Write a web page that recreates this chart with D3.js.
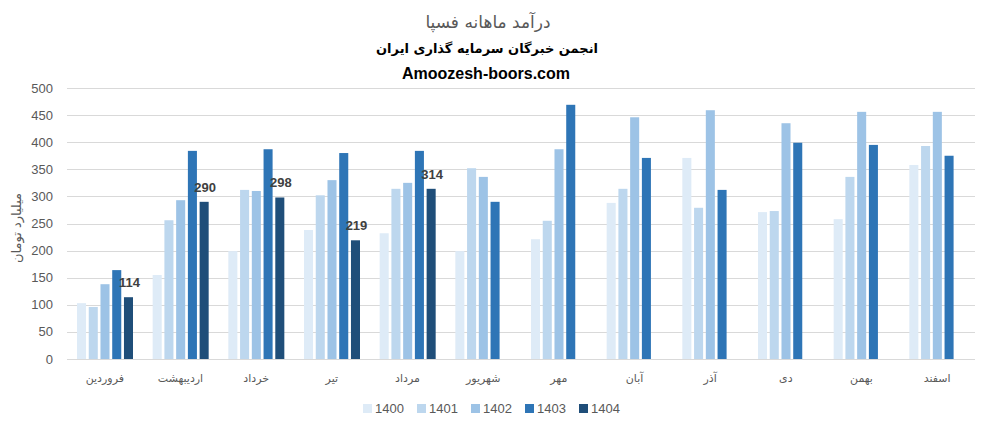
<!DOCTYPE html>
<html><head><meta charset="utf-8">
<script src="https://cdn.jsdelivr.net/npm/d3@7"></script>
<style>body{margin:0;background:#fff}svg{display:block}</style>
</head><body><svg id="c" width="981" height="432"></svg>
<script>
const months = ["فروردین","اردیبهشت","خرداد","تیر","مرداد","شهریور","مهر","آبان","آذر","دی","بهمن","اسفند"];
const years = ["1400","1401","1402","1403","1404"];
const v1400 = [103,155,199,238,232,199,221,288,371,271,258,358];
const v1401 = [96,256,312,302,314,352,255,314,279,273,336,393];
const v1402 = [138,293,310,330,325,336,387,446,459,435,456,456];
const v1403 = [164,384,387,380,384,290,469,371,312,399,395,375];
const v1404 = [114,290,298,219,314,null,null,null,null,null,null,null];
const yTicks = [0,50,100,150,200,250,300,350,400,450,500];
const colors = ["#DEEBF7","#BDD7EE","#9DC3E6","#2E75B6","#1F4E79"];
const series = [v1400,v1401,v1402,v1403,v1404];

const svg = d3.select("#c");
const pL = 67, pR = 975, pT = 88, pB = 359;
const x0 = d3.scaleBand().domain(months).range([pL, pR]);
const x1 = d3.scaleBand().domain(years).range([10, 66]).paddingInner(0.23);
const y = d3.scaleLinear().domain([0,500]).range([pB, pT]);

// gridlines
svg.append("g").selectAll("line").data(yTicks).join("line")
  .attr("x1", pL).attr("x2", pR)
  .attr("y1", d=>Math.round(y(d))+0.5).attr("y2", d=>Math.round(y(d))+0.5)
  .attr("stroke", "#d9d9d9").attr("stroke-width", 1);

// y tick labels
svg.append("g").selectAll("text").data(yTicks).join("text")
  .attr("x", 53).attr("y", d=>y(d)).attr("dy","0.35em")
  .attr("text-anchor","end").attr("font-family","Liberation Sans, Arial, sans-serif")
  .attr("font-size", 13).attr("fill","#595959").text(d=>d);

// bars
const g = svg.append("g");
series.forEach((vals, si) => {
  g.append("g").selectAll("rect").data(vals.map((v,i)=>({m:months[i],v})).filter(d=>d.v!=null)).join("rect")
    .attr("x", d=>x0(d.m)+x1(years[si]))
    .attr("width", x1.bandwidth())
    .attr("y", d=>y(d.v))
    .attr("height", d=>y(0)-y(d.v))
    .attr("fill", colors[si]);
});

// data labels for 1404
svg.append("g").selectAll("text").data(v1404.map((v,i)=>({m:months[i],v})).filter(d=>d.v!=null)).join("text")
  .attr("x", d=>x0(d.m)+x1("1404")+x1.bandwidth()/2+1)
  .attr("y", d=>y(d.v)-10)
  .attr("text-anchor","middle")
  .attr("font-family","Liberation Sans, Arial, sans-serif")
  .attr("font-weight","bold").attr("font-size", 13).attr("fill","#404040")
  .text(d=>d.v);

// x labels
svg.append("g").selectAll("text").data(months).join("text")
  .attr("x", d=>x0(d)+x0.bandwidth()/2).attr("y", 382)
  .attr("text-anchor","middle").attr("font-family","DejaVu Sans, sans-serif")
  .attr("font-size", 11).attr("fill","#595959").text(d=>d);

// y axis title
svg.append("text").attr("transform","translate(21,228) rotate(-90)")
  .attr("text-anchor","middle").attr("font-family","DejaVu Sans, sans-serif")
  .attr("font-size", 13).attr("fill","#595959").text("میلیارد تومان");

// titles
svg.append("text").attr("x", 488).attr("y", 28).attr("text-anchor","middle")
  .attr("font-family","DejaVu Sans, sans-serif").attr("font-size", 17).attr("fill","#595959")
  .text("درآمد ماهانه فسپا");
svg.append("text").attr("x", 487).attr("y", 53).attr("text-anchor","middle")
  .attr("font-family","DejaVu Sans, sans-serif").attr("font-weight","bold").attr("font-size", 13).attr("fill","#000")
  .text("انجمن خبرگان سرمایه گذاری ایران");
svg.append("text").attr("x", 486).attr("y", 79).attr("text-anchor","middle")
  .attr("font-family","Liberation Sans, Arial, sans-serif").attr("font-weight","bold").attr("font-size", 16).attr("fill","#000")
  .text("Amoozesh-boors.com");

// legend
const lg = svg.append("g").selectAll("g").data(years).join("g")
  .attr("transform", (d,i)=>`translate(${363 + i*54},404)`);
lg.append("rect").attr("width", 9).attr("height", 9).attr("fill", (d,i)=>colors[i]);
lg.append("text").attr("x", 12).attr("y", 4.5).attr("dy","0.35em")
  .attr("font-family","Liberation Sans, Arial, sans-serif").attr("font-size", 13).attr("fill","#595959").text(d=>d);
</script></body></html>
